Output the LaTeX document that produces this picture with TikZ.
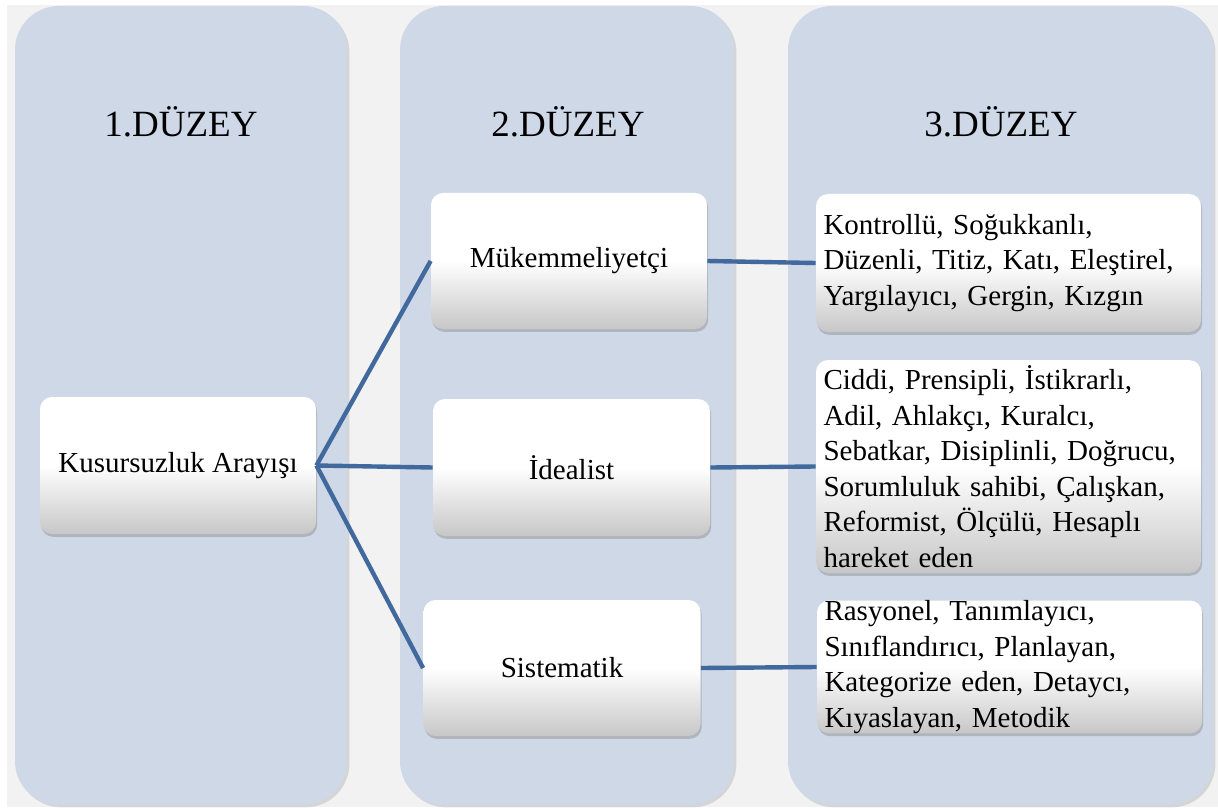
\documentclass[tikz,border=0pt]{standalone}
\usepackage{fontspec}
\setmainfont{Liberation Serif}
\usetikzlibrary{shadows}

\definecolor{zemin}{HTML}{F2F2F2}
\definecolor{sutunrenk}{HTML}{CFD8E7}
\definecolor{baglanti}{HTML}{41699E}

\begin{document}
\begin{tikzpicture}[x=0.5pt,y=-0.5pt,
    sutun/.style={fill=sutunrenk,rounded corners=22pt,
        drop shadow={shadow xshift=1.2pt,shadow yshift=-1.2pt,opacity=0.25}},
    baslik/.style={anchor=base,font=\fontsize{18.5}{22}\selectfont},
    kutu/.style={rounded corners=6pt,top color=white,bottom color=black!22,middle color=white,
        drop shadow={shadow xshift=0.6pt,shadow yshift=-1.4pt,opacity=0.4},
        inner sep=0pt,font=\fontsize{14.5}{17.75}\selectfont},
    liste/.style={kutu,align=left,inner xsep=3.5pt,text width=185pt,minimum width=192.5pt},
    cizgi/.style={baglanti,line width=2.2pt}]
    % Background
    \useasboundingbox (0,0) rectangle (1218,807);
    \fill[white] (0,0) rectangle (1218,807);
    \fill[zemin] (7,5) rectangle (1218,807);

    % Draw columns
    \path[sutun] (15,6) rectangle (347,805);
    \path[sutun] (400,6) rectangle (734,805);
    \path[sutun] (788,6) rectangle (1213,805);

    % Headings
    \node[baslik] (d1) at (181,137) {1.DÜZEY};
    \node[baslik] (d2) at (568,137) {2.DÜZEY};
    \node[baslik] (d3) at (1001,137) {3.DÜZEY};

    % Level 1 and 2
    \node[kutu,minimum width=138pt,minimum height=68.5pt] (kus) at (178,465.5) {Kusursuzluk Arayışı};
    \node[kutu,minimum width=138pt,minimum height=68pt] (muk) at (569,261) {Mükemmeliyetçi};
    \node[kutu,minimum width=138.5pt,minimum height=68.5pt] (ide) at (571.5,467.5) {İdealist};
    \node[kutu,minimum width=138.5pt,minimum height=68pt] (sis) at (562,668) {Sistematik};

    % Level 3
    \node[liste,minimum height=69pt] (kon) at (1008.5,263) {Kontrollü, Soğukkanlı,\\Düzenli, Titiz, Katı, Eleştirel,\\Yargılayıcı, Gergin, Kızgın};
    \node[liste,minimum height=106.5pt] (cid) at (1008.5,466.5) {Ciddi, Prensipli, İstikrarlı,\\Adil, Ahlakçı, Kuralcı,\\Sebatkar, Disiplinli, Doğrucu,\\Sorumluluk sahibi, Çalışkan,\\Reformist, Ölçülü, Hesaplı\\hareket eden};
    \node[liste,minimum height=65pt] (ras) at (1009.5,667) {Rasyonel, Tanımlayıcı,\\Sınıflandırıcı, Planlayan,\\Kategorize eden, Detaycı,\\Kıyaslayan, Metodik};

    % Draw connectors
    \draw[cizgi] (kus.east) -- (muk.west);
    \draw[cizgi] (kus.east) -- (ide.west);
    \draw[cizgi] (kus.east) -- (sis.west);
    \draw[cizgi] (muk.east) -- (kon.west);
    \draw[cizgi] (ide.east) -- (cid.west);
    \draw[cizgi] (sis.east) -- (ras.west);
\end{tikzpicture}
\end{document}
